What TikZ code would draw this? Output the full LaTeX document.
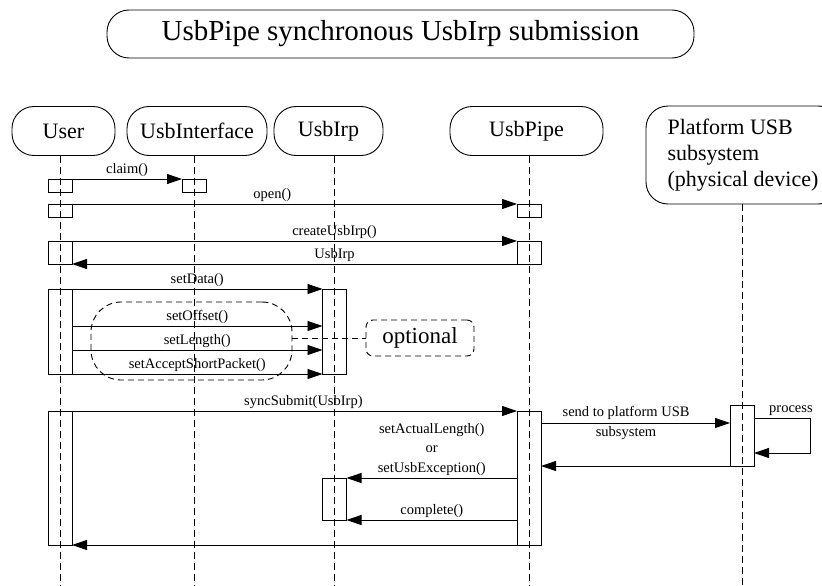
\documentclass[tikz,border=0pt]{standalone}
\usepackage{fontspec}
\setmainfont{Liberation Serif}
\usepackage{tikz}
\usetikzlibrary{positioning,arrows.meta,calc}
\tikzset{
    head/.style = {
        draw,
        shape=rectangle,
        rounded corners=22pt,
        minimum height=49pt,
        line width=0.9pt,
        font=\fontsize{22}{26}\selectfont
    },
    actbox/.style = {
        draw,
        shape=rectangle,
        minimum width=24pt,
        inner sep=0pt,
        outer sep=0pt,
        line width=0.9pt
    },
    msg/.style = {
        draw,
        ->,
        line width=0.9pt
    },
    life/.style = {
        draw,
        dash pattern=on 7pt off 4pt,
        line width=0.9pt
    },
    note/.style = {
        draw,
        shape=rectangle,
        dash pattern=on 6pt off 4pt,
        line width=0.9pt
    },
    lbl/.style = {
        font=\fontsize{14.5}{19.5}\selectfont,
        align=center,
        inner sep=2pt
    },
    >={Triangle[length=15pt,width=10pt]},
}

\begin{document}
\begin{tikzpicture}[x=1pt,y=-1pt]
    \useasboundingbox (0,0) rectangle (822,586);
    \coordinate (bottom) at (0,586);

    \node[head, minimum width=587pt, minimum height=48pt, font=\fontsize{29}{34}\selectfont] (title) at (400.5,34) {UsbPipe synchronous UsbIrp submission};

    \node[head, minimum width=103pt] (user) at (63.5,131) {User};
    \node[head, minimum width=140pt] (iface) at (197,131) {UsbInterface};
    \node[head, minimum width=109pt] (irp) at (328.5,131) {UsbIrp};
    \node[head, minimum width=153pt] (pipe) at (526.5,131) {UsbPipe};
    \node[head, minimum width=194pt, minimum height=98pt, align=left] (plat) at (743,155) {Platform USB\\subsystem\\(physical device)};

    \node[actbox, minimum height=13pt] (u1) at (60,185.5) {};
    \node[actbox, minimum height=13pt] (i1) at (194,185.5) {};
    \node[actbox, minimum height=13pt] (u2) at (60,210.5) {};
    \node[actbox, minimum height=13pt] (p1) at (529,210.5) {};
    \node[actbox, minimum height=23pt] (u3) at (60,252.5) {};
    \node[actbox, minimum height=23pt] (p2) at (529,252.5) {};
    \node[actbox, minimum height=85pt] (u4) at (60,331.5) {};
    \node[actbox, minimum height=85pt] (r1) at (334.5,331.5) {};
    \node[actbox, minimum height=134pt] (u5) at (60,478) {};
    \node[actbox, minimum height=134pt] (p3) at (529,478) {};
    \node[actbox, minimum height=61pt] (d1) at (742,435.5) {};
    \node[actbox, minimum height=42pt] (r2) at (334.5,499) {};

    % lifelines
    \draw[life] (u1 |- user.south) -- (u1 |- bottom);
    \draw[life] (i1 |- iface.south) -- (i1 |- bottom);
    \draw[life] (r1 |- irp.south) -- (r1 |- bottom);
    \draw[life] (p1 |- pipe.south) -- (p1 |- bottom);
    \draw[life] (d1 |- plat.south) -- (d1 |- bottom);

    \draw[msg] (u1.north east) -- node[lbl, above] {claim()} (i1.north west);
    \draw[msg] (u2.north east) -- node[lbl, above, pos=0.45] {open()} (p1.north west);
    \draw[msg] (u3.north east) -- node[lbl, above, pos=0.59] {createUsbIrp()} (p2.north west);
    \draw[msg] (p2.south west) -- node[lbl, above, pos=0.41] {UsbIrp} (u3.south east);

    \draw[msg] (u4.north east) -- node[lbl, above] {setData()} (r1.north west);
    \draw[msg] ([yshift=-37pt]u4.north east) -- node[lbl, above] {setOffset()} ([yshift=-37pt]r1.north west);
    \draw[msg] ([yshift=-61pt]u4.north east) -- node[lbl, above] {setLength()} ([yshift=-61pt]r1.north west);
    \draw[msg] (u4.south east) -- node[lbl, above] {setAcceptShortPacket()} (r1.south west);

    \node[note, rounded corners=30pt, minimum width=201pt, minimum height=78pt] (optgrp) at (191.5,341) {};
    \node[note, rounded corners=7pt, minimum width=108pt, minimum height=36pt, font=\fontsize{23}{27}\selectfont] (optnote) at (420,338) {optional};
    \draw[note] (optgrp.east |- optnote) -- (optnote.west);

    \draw[msg] (u5.north east) -- node[lbl, above, pos=0.52] {syncSubmit(UsbIrp)} (p3.north west);
    \coordinate (s1) at ([yshift=-12pt]p3.north east);
    \draw[msg] (s1) -- node[lbl, pos=0.45] {send to platform USB\\subsystem} (s1 -| d1.west);
    \draw[msg] ([yshift=-13pt]d1.north east) -- ++(56,0) node[lbl, above, pos=0.66] {process} |- ([yshift=13pt]d1.south east);
    \draw[msg] (d1.south west) -- (d1.south west -| p3.east);
    \draw[msg] (r2.north east -| p3.west) -- node[lbl, above] {setActualLength()\\or\\setUsbException()} (r2.north east);
    \draw[msg] (r2.south east -| p3.west) -- node[lbl, above] {complete()} (r2.south east);
    \draw[msg] (p3.south west) -- (u5.south east);
\end{tikzpicture}
\end{document}
